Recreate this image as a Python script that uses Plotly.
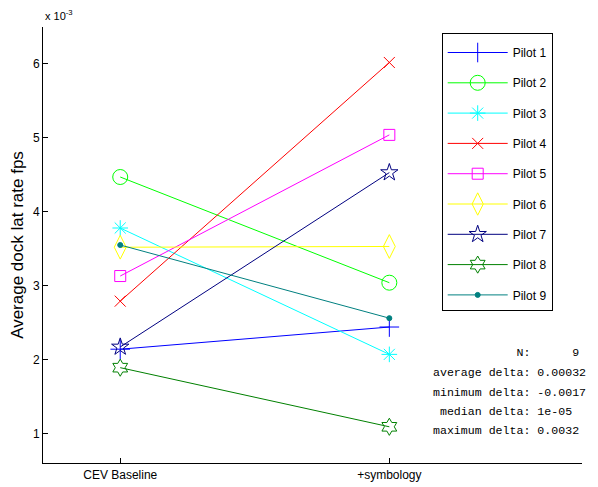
import plotly.graph_objects as go

# Data (values in units of 1e-3 fps)
categories = ["CEV Baseline", "+symbology"]
pilots = ["Pilot 1", "Pilot 2", "Pilot 3", "Pilot 4", "Pilot 5",
          "Pilot 6", "Pilot 7", "Pilot 8", "Pilot 9"]
baseline = [2.14, 4.47, 3.78, 2.79, 3.13, 3.52, 2.17, 1.89, 3.55]
symbology = [2.44, 3.04, 2.07, 6.02, 5.04, 3.53, 4.53, 1.09, 2.56]
colors = ["#0000ff", "#00ff00", "#00ffff", "#ff0000", "#ff00ff",
          "#ffff00", "#000080", "#008000", "#008080"]
symbols = ["cross-thin-open", "circle-open", "asterisk-open", "x-thin-open",
           "square-open", "diamond-tall-open", "star-open", "hexagram-open", "circle"]
msizes = [14, 15, 13, 11, 11, 17, 13, 13, 5]
ytick_vals = [1, 2, 3, 4, 5, 6]
stats_labels = ["N:", "average delta:", "minimum delta:", "median delta:", "maximum delta:"]
stats_values = ["     9", "0.00032", "-0.0017", "1e-05", "0.0032"]

x_pos = [1, 2]

fig = go.Figure()
for i, name in enumerate(pilots):
    fig.add_trace(go.Scatter(
        x=x_pos, y=[baseline[i], symbology[i]], mode="lines+markers", name=name,
        legendgroup=name,
        line=dict(color=colors[i], width=1),
        marker=dict(symbol=symbols[i], size=msizes[i], color=colors[i],
                    line=dict(color=colors[i], width=1)),
    ))

font_main = "Liberation Sans, Arial, sans-serif"
# page body has an 8px margin, so the figure is 8px smaller than the window
fig.update_layout(
    width=590, height=479,
    margin=dict(l=35, r=16, t=19, b=24, autoexpand=False),
    paper_bgcolor="white", plot_bgcolor="white",
    font=dict(family=font_main, size=12, color="black"),
    showlegend=True,
    legend=dict(
        x=0.7397, y=0.986, xanchor="left", yanchor="top",
        bgcolor="white", bordercolor="black", borderwidth=1,
        font=dict(size=12, family=font_main),
        tracegroupgap=11.3, itemwidth=60,
        title=dict(text="\u00a0", font=dict(size=3)),
    ),
    xaxis=dict(
        range=[0.713, 2.716], tickvals=x_pos, ticktext=categories,
        showgrid=False, zeroline=False, showline=True, linecolor="black",
        linewidth=1, ticks="inside", ticklen=5, tickcolor="black",
        tickfont=dict(size=12), automargin=False, ticklabelstandoff=1,
    ),
    yaxis=dict(
        range=[0.6, 6.5], tickvals=ytick_vals, ticktext=[str(v) for v in ytick_vals],
        showgrid=False, zeroline=False, showline=True, linecolor="black",
        linewidth=1, ticks="inside", ticklen=5, tickcolor="black",
        tickfont=dict(size=12), automargin=False,
        title=dict(text="Average dock lat rate fps", font=dict(size=17), standoff=5),
    ),
)

fig.add_annotation(
    xref="paper", yref="paper", x=0, y=1, xanchor="left", yanchor="bottom",
    text="x 10<sup>-3</sup>", showarrow=False, font=dict(size=11), yshift=3,
)

line_y_px = [352.7, 372.7, 392.0, 411.3, 430.7]
for lab, val, ypx in zip(stats_labels, stats_values, line_y_px):
    txt = (lab.rjust(14) + " " + val).replace(" ", "\u00a0")
    fig.add_annotation(
        xref="paper", yref="paper",
        x=(430.5 - 43) / 539, y=(463 - ypx) / 436,
        xanchor="left", yanchor="middle", showarrow=False, align="left",
        text=txt, font=dict(family="Liberation Mono, Courier New, monospace", size=11.6),
    )

fig.write_html("out.html")
